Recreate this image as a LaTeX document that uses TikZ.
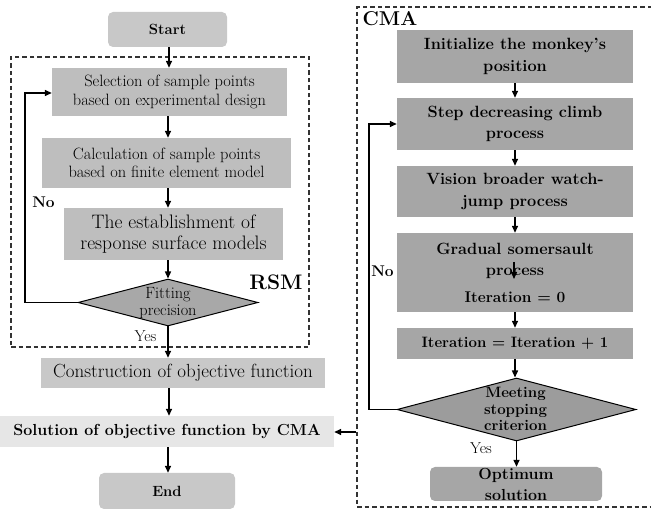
\documentclass[tikz,border=0pt]{standalone}
\usepackage{fontspec}
\usetikzlibrary{shapes.geometric,arrows.meta}
\definecolor{rsmgray}{HTML}{BEBEBE}
\definecolor{termgray}{HTML}{C8C8C8}
\definecolor{cmagray}{HTML}{A6A6A6}
\definecolor{lightbox}{HTML}{E6E6E6}
\definecolor{dgray}{HTML}{A8A8A8}
\definecolor{dgrayb}{HTML}{9C9C9C}
\tikzset{
  box/.style={rectangle, inner sep=0pt, align=center},
  rsmbox/.style={box, fill=rsmgray, font=\fontsize{16.4}{18.5}\selectfont},
  term/.style={box, rounded corners=5pt, fill=termgray, font=\bfseries\fontsize{14.8}{18}\selectfont},
  cmabox/.style={box, fill=cmagray, font=\bfseries\fontsize{16.3}{21.5}\selectfont},
  dia/.style={diamond, draw=black, line width=1pt, inner sep=0pt},
  frame/.style={rectangle, draw=black!80, dashed, dash pattern=on 4.5pt off 3pt, line width=1.3pt, inner sep=0pt},
  arr/.style={-{Triangle[length=7pt,width=6pt]}, line width=1.4pt},
  lab/.style={inner sep=0pt, font=\fontsize{15.8}{18}\selectfont},
  blab/.style={inner sep=0pt, font=\bfseries\fontsize{15.5}{18}\selectfont},
}
\begin{document}
\begin{tikzpicture}[x=1pt,y=-1pt]
\useasboundingbox (0,0) rectangle (651,510);
% frames
\node[frame, minimum width=298pt, minimum height=290pt] (rsm) at (160,202) {};
\node[frame, minimum width=310pt, minimum height=500pt] (cma) at (512,257) {};
\node[inner sep=0pt, font=\bfseries\fontsize{21}{22}\selectfont] (rsmlab) at (276,282) {RSM};
\node[inner sep=0pt, font=\bfseries\fontsize{20}{22}\selectfont] (cmalab) at (390,19) {CMA};
% left flow
\node[term, minimum width=119pt, minimum height=35pt] (start) at (167.5,29.5) {Start};
\node[rsmbox, minimum width=235pt, minimum height=48pt] (b1) at (169.5,92) {Selection of sample points\\based on experimental design};
\node[rsmbox, minimum width=249pt, minimum height=50pt] (b2) at (166.5,163) {Calculation of sample points\\based on finite element model};
\node[rsmbox, minimum width=219pt, minimum height=52pt, font=\fontsize{19.5}{20.5}\selectfont] (b3) at (173.5,234) {The establishment of\\response surface models};
\node[dia, fill=dgray, minimum width=180pt, minimum height=47pt] (d1) at (168,302.5) {};
\node[inner sep=0pt, align=center, font=\fontsize{16.3}{17}\selectfont] (d1t) at (168,303) {Fitting\\precision};
\node[box, fill=termgray, minimum width=284pt, minimum height=30pt, font=\fontsize{19}{20}\selectfont] (b4) at (183,373) {Construction of objective function};
\node[box, fill=lightbox, minimum width=334pt, minimum height=31pt, font=\bfseries\fontsize{16}{19}\selectfont] (b5) at (167,431.5) {Solution of objective function by CMA};
\node[term, minimum width=136pt, minimum height=36pt] (end) at (167,491) {End};
\node[blab] (no1) at (43.5,202) {No};
\node[lab] (yes1) at (145.5,336) {Yes};
% CMA flow
\node[cmabox, minimum width=236pt, minimum height=53pt] (c1) at (515,56.5) {Initialize the monkey's\\position};
\node[cmabox, minimum width=236pt, minimum height=52pt] (c2) at (515,124) {Step decreasing climb\\process};
\node[cmabox, minimum width=236pt, minimum height=51pt] (c3) at (515,191.5) {Vision broader watch-\\jump process};
\node[cmabox, minimum width=236pt, minimum height=79pt] (c4) at (515,272.5) {Gradual somersault\\process\\[5pt]{\fontsize{15.5}{18}\selectfont Iteration = 0}};
\node[cmabox, minimum width=236pt, minimum height=31pt, font=\bfseries\fontsize{15}{18}\selectfont] (c5) at (515,343.5) {Iteration = Iteration + 1};
\node[dia, fill=dgrayb, minimum width=239pt, minimum height=63pt] (d2) at (516.5,409.5) {};
\node[inner sep=0pt, align=center, font=\bfseries\fontsize{15}{16.5}\selectfont] (d2t) at (515.5,409) {Meeting\\stopping\\criterion};
\node[box, rounded corners=5pt, fill=cmagray, minimum width=172pt, minimum height=34pt, font=\bfseries\fontsize{16}{21}\selectfont] (opt) at (516,484) {Optimum\\solution};
\node[blab] (no2) at (382.5,271) {No};
\node[lab] (yes2) at (481,448) {Yes};
\coordinate (c4a) at (514,262);
\coordinate (c4b) at (514,279);
% connectors left
\draw[arr] (start.south -| 169,0) -- (b1.north -| 169,0);
\draw[arr] (b1.south -| 168,0) -- (b2.north -| 168,0);
\draw[arr] (b2.south -| 168,0) -- (b3.north -| 168,0);
\draw[arr] (b3.south -| 168,0) -- (d1.north);
\draw[arr] (d1.south) -- (d1.south |- b4.north);
\draw[arr] (b4.south -| 169,0) -- (b5.north -| 169,0);
\draw[arr] (b5.south -| 168,0) -- (end.north -| 168,0);
\draw[arr] (d1.west) -- (25,302.5) -- (25,93) -- (b1.west |- 0,93);
% connectors right
\draw[arr] (c1.south) -- (c2.north);
\draw[arr] (c2.south) -- (c3.north);
\draw[arr] (c3.south) -- (c4.north);
\draw[arr] (c4a) -- (c4b);
\draw[arr] (c4.south) -- (c5.north);
\draw[arr] (c5.south) -- (c5.south |- d2.north);
\draw[arr] (d2.south) -- (d2.south |- opt.north);
\draw[arr] (d2.west) -- (369,409.5) -- (369,124) -- (c2.west);
\draw[arr] (cma.west |- 0,432) -- (b5.east |- 0,432);
\end{tikzpicture}
\end{document}
